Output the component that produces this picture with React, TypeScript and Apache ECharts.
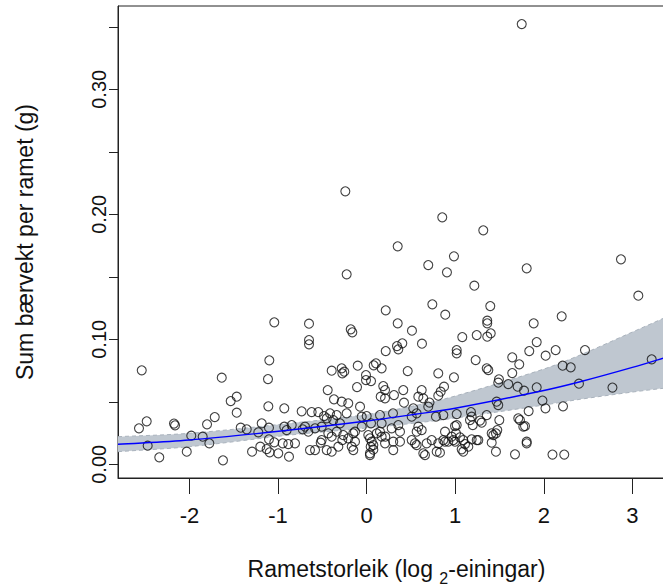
import React, { useEffect, useRef } from "react";
import * as echarts from "echarts";

// Rametstorleik (log2-einingar)
const rametSize = [
  1.751, -0.240, 0.854, 1.317, 0.351, 0.986, 2.871, 0.696, 1.807, 0.907,
  -0.225, 1.216, 3.067, 0.742, 1.396, 0.216, 0.888, 2.202, -1.042, -0.650,
  0.351, 1.362, 1.362, 1.886, -0.179, -0.161, 0.512, 1.401, 1.362, 1.243,
  1.080, -0.650, -0.650, 0.625, 1.920, 0.343, 0.403, 0.358, 0.216, 1.017,
  1.017, 1.836, 2.134, 2.021, 2.465, 1.644, 1.231, -1.098, 3.218, 1.723,
  -2.538, -0.394, -0.281, -0.274, -0.252, -0.100, 0.080, 0.106, 0.170, 0.464,
  1.356, 1.374, 2.213, 2.304, 0.809, 1.644, -0.007, -0.007, 0.050, -1.635,
  -1.113, 0.986, 1.494, 1.486, 1.599, 2.397, 1.705, 1.777, 1.920, 2.775,
  -0.108, 0.188, 0.208, -0.439, 0.414, 0.874, 0.836, 0.809, 0.622, 0.584,
  0.640, 0.309, -1.466, -1.534, -0.368, -0.281, -0.207, -0.074, 0.159, 0.208,
  0.422, 0.710, 0.696, 1.468, 1.486, 1.985, 2.019, 2.217, 1.829, -1.109,
  -0.929, -1.466, 0.527, -0.733, -0.620, -0.545, -0.413, -0.337, -0.225, 0.001,
  0.151, 0.298, 0.565, 0.509, 0.783, 0.866, 1.017, 1.178, 1.186, 1.356,
  1.712, 1.731, 1.498, 1.167, 1.280, -2.482, -2.174, -2.162, -1.714, -1.801,
  -2.569, -1.421, -1.353, -1.184, -1.102, -1.222, -0.929, -0.845, -0.902, -0.695,
  -0.658, -0.582, -0.507, -0.450, -0.376, -0.300, -0.432, -0.394, -0.337, -0.263,
  -0.207, -0.131, -0.055, 0.050, 0.019, 0.038, 0.151, 0.170, 0.283, 0.358,
  0.377, 0.170, 0.622, 0.565, 0.584, 0.885, 0.998, 1.017, 1.009, 1.198,
  1.299, 1.475, 1.412, 1.430, 1.460, 1.769, 1.788, 0.960, 1.054, 1.186,
  1.243, -1.293, -1.200, -1.128, -1.094, -1.042, -0.997, -0.947, -0.876, -1.102,
  -2.471, -2.340, -2.030, -1.621, -1.775, -1.979, -1.850, -0.884, -0.808, -0.639,
  -0.582, -0.507, -0.450, -0.394, -0.319, -0.274, -0.168, -0.150, -0.131, 0.046,
  0.076, 0.076, 0.038, 0.038, 0.058, 0.208, 0.211, 0.301, 0.377, 0.509,
  0.301, 0.546, 0.565, 0.640, 0.659, 0.735, 0.809, 0.791, 0.828, 0.866,
  0.885, 0.979, 0.998, 1.091, 1.111, 1.073, 1.091, 1.148, 0.922, 1.261,
  1.412, 1.460, 1.807, 1.807, 1.675, 2.098, 2.231, 0.678, -0.721, -0.518,
  -0.150, -0.055, 0.114, -0.481
];

// Sum bærvekt per ramet (g)
const berryMass = [
  0.3522, 0.2184, 0.1976, 0.1872, 0.1744, 0.1664, 0.1640, 0.1594, 0.1568, 0.1536,
  0.1520, 0.1429, 0.1349, 0.1280, 0.1266, 0.1232, 0.1197, 0.1184, 0.1136, 0.1125,
  0.1128, 0.1149, 0.1128, 0.1128, 0.1080, 0.1056, 0.1069, 0.1048, 0.1021, 0.1034,
  0.1018, 0.0994, 0.0960, 0.0965, 0.0978, 0.0946, 0.0968, 0.0920, 0.0906, 0.0914,
  0.0888, 0.0906, 0.0914, 0.0869, 0.0914, 0.0856, 0.0834, 0.0832, 0.0840, 0.0800,
  0.0752, 0.0749, 0.0768, 0.0728, 0.0741, 0.0789, 0.0792, 0.0808, 0.0768, 0.0746,
  0.0768, 0.0754, 0.0789, 0.0776, 0.0728, 0.0730, 0.0714, 0.0674, 0.0666, 0.0693,
  0.0682, 0.0696, 0.0680, 0.0653, 0.0642, 0.0645, 0.0621, 0.0589, 0.0616, 0.0614,
  0.0618, 0.0626, 0.0594, 0.0594, 0.0594, 0.0621, 0.0581, 0.0549, 0.0594, 0.0541,
  0.0528, 0.0554, 0.0541, 0.0506, 0.0520, 0.0501, 0.0488, 0.0461, 0.0541, 0.0528,
  0.0493, 0.0494, 0.0461, 0.0501, 0.0474, 0.0510, 0.0448, 0.0464, 0.0426, 0.0464,
  0.0448, 0.0413, 0.0448, 0.0424, 0.0418, 0.0418, 0.0408, 0.0394, 0.0408, 0.0386,
  0.0394, 0.0408, 0.0408, 0.0381, 0.0381, 0.0394, 0.0402, 0.0418, 0.0381, 0.0394,
  0.0368, 0.0354, 0.0354, 0.0354, 0.0350, 0.0344, 0.0326, 0.0312, 0.0378, 0.0320,
  0.0288, 0.0293, 0.0280, 0.0328, 0.0293, 0.0256, 0.0301, 0.0314, 0.0274, 0.0301,
  0.0261, 0.0288, 0.0301, 0.0368, 0.0354, 0.0328, 0.0248, 0.0221, 0.0261, 0.0234,
  0.0208, 0.0261, 0.0301, 0.0328, 0.0234, 0.0208, 0.0261, 0.0221, 0.0288, 0.0314,
  0.0261, 0.0328, 0.0274, 0.0261, 0.0301, 0.0261, 0.0306, 0.0314, 0.0248, 0.0314,
  0.0333, 0.0274, 0.0248, 0.0234, 0.0248, 0.0301, 0.0306, 0.0221, 0.0216, 0.0200,
  0.0194, 0.0101, 0.0141, 0.0122, 0.0096, 0.0176, 0.0088, 0.0168, 0.0061, 0.0200,
  0.0149, 0.0056, 0.0101, 0.0032, 0.0168, 0.0229, 0.0221, 0.0162, 0.0168, 0.0114,
  0.0114, 0.0194, 0.0114, 0.0101, 0.0141, 0.0194, 0.0141, 0.0114, 0.0181, 0.0141,
  0.0154, 0.0117, 0.0088, 0.0074, 0.0181, 0.0168, 0.0221, 0.0181, 0.0181, 0.0194,
  0.0114, 0.0168, 0.0154, 0.0088, 0.0074, 0.0194, 0.0168, 0.0101, 0.0093, 0.0194,
  0.0181, 0.0194, 0.0181, 0.0194, 0.0162, 0.0120, 0.0101, 0.0141, 0.0181, 0.0194,
  0.0173, 0.0101, 0.0181, 0.0168, 0.0080, 0.0078, 0.0078, 0.0168, 0.0280, 0.0173,
  0.0248, 0.0381, 0.0248, 0.0386
];

// fitted curve and its confidence band
const fitX = [-2.806, -2, -0.865, 0, 0.55, 1, 2, 2.41, 3, 3.35, 3.481];
const fitMid = [0.0160, 0.0194, 0.0274, 0.0346, 0.0400, 0.0448, 0.0590, 0.0660, 0.0775, 0.0850, 0.0880];
const fitLower = [0.0101, 0.0141, 0.0234, 0.0290, 0.0330, 0.0370, 0.0474, 0.0520, 0.0578, 0.0608, 0.0618];
const fitUpper = [0.0221, 0.0248, 0.0328, 0.0398, 0.0470, 0.0546, 0.0762, 0.0874, 0.1058, 0.1168, 0.1210];

const xTicks = [-2, -1, 0, 1, 2, 3];
const yTicks = [0, 0.05, 0.1, 0.15, 0.2, 0.25, 0.3, 0.35];
const yLabels = [0, 0.1, 0.2, 0.3];

const FONT = "'Liberation Sans', Arial, Helvetica, sans-serif";

// smooth path through pixel points (cubic Hermite with finite-difference tangents)
function curveCommands(p: number[][], start: boolean): string {
  const n = p.length;
  const m: number[] = [];
  for (let i = 0; i < n; i++) {
    const a = p[Math.max(0, i - 1)];
    const b = p[Math.min(n - 1, i + 1)];
    m.push((b[1] - a[1]) / (b[0] - a[0]));
  }
  let d = (start ? "M" : "L") + p[0][0].toFixed(2) + " " + p[0][1].toFixed(2);
  for (let i = 0; i < n - 1; i++) {
    const h = p[i + 1][0] - p[i][0];
    const c1x = p[i][0] + h / 3;
    const c1y = p[i][1] + (m[i] * h) / 3;
    const c2x = p[i + 1][0] - h / 3;
    const c2y = p[i + 1][1] - (m[i + 1] * h) / 3;
    d += ` C${c1x.toFixed(2)} ${c1y.toFixed(2)} ${c2x.toFixed(2)} ${c2y.toFixed(2)} ${p[i + 1][0].toFixed(2)} ${p[i + 1][1].toFixed(2)}`;
  }
  return d;
}

export default function App() {
  const ref = useRef<HTMLDivElement>(null);

  useEffect(() => {
    if (!ref.current) return;
    const chart = echarts.init(ref.current, undefined, { renderer: "svg" });

    const points = rametSize.map((x, i) => [x, berryMass[i]]);
    const fitData = fitX.map((x, i) => [x, fitMid[i], fitLower[i], fitUpper[i]]);

    const bandItem = (params: any, api: any) => {
      if (params.dataIndex !== 0) return null;
      const up = fitX.map((x, i) => api.coord([x, fitUpper[i]]));
      const lo = fitX.map((x, i) => api.coord([x, fitLower[i]]));
      const loRev = lo.slice().reverse();
      const band = curveCommands(up, true) + " " + curveCommands(loRev, false) + " Z";
      return {
        type: "group",
        children: [
          {
            type: "path",
            shape: { pathData: band },
            style: { fill: "#bfc7d0", stroke: "none" },
          },
          {
            type: "path",
            shape: { pathData: curveCommands(up, true) },
            style: { fill: "none", stroke: "#aab3bd", lineWidth: 1, lineDash: [4, 3] },
          },
          {
            type: "path",
            shape: { pathData: curveCommands(lo, true) },
            style: { fill: "none", stroke: "#aab3bd", lineWidth: 1, lineDash: [4, 3] },
          },
        ],
      };
    };

    const lineItem = (params: any, api: any) => {
      if (params.dataIndex !== 0) return null;
      const mid = fitX.map((x, i) => api.coord([x, fitMid[i]]));
      return {
        type: "path",
        shape: { pathData: curveCommands(mid, true) },
        style: { fill: "none", stroke: "#0000ff", lineWidth: 1.4 },
      };
    };

    chart.setOption({
      animation: false,
      backgroundColor: "#ffffff",
      textStyle: { fontFamily: FONT },
      grid: {
        left: 118,
        top: 6,
        right: -12,
        bottom: 110,
        show: true,
        borderColor: "#222",
        borderWidth: 1,
        containLabel: false,
        outerBoundsMode: "none",
      },
      xAxis: {
        type: "value",
        min: -2.806,
        max: 3.481,
        splitLine: { show: false },
        axisLine: { show: true, onZero: false, lineStyle: { color: "#222", width: 1 } },
        axisTick: {
          show: true,
          length: 16,
          customValues: xTicks,
          lineStyle: { color: "#222", width: 1 },
        },
        axisLabel: {
          customValues: xTicks,
          color: "#111",
          fontSize: 22,
          fontFamily: FONT,
          margin: 26,
          formatter: (v: number) => String(v),
        },
        name: "{b|Rametstorleik (log }{s|2}{b|-einingar)}",
        nameLocation: "middle",
        nameGap: 79,
        nameTextStyle: {
          color: "#111",
          fontFamily: FONT,
          rich: {
            b: { fontSize: 23, fontFamily: FONT, color: "#111", verticalAlign: "bottom", padding: [0, 0, 6, 0] },
            s: { fontSize: 16, fontFamily: FONT, color: "#111", verticalAlign: "bottom" },
          },
        },
      },
      yAxis: {
        type: "value",
        min: -0.01096,
        max: 0.36664,
        splitLine: { show: false },
        axisLine: { show: true, onZero: false, lineStyle: { color: "#222", width: 1 } },
        axisTick: {
          show: true,
          length: 9,
          customValues: yTicks,
          lineStyle: { color: "#222", width: 1 },
        },
        axisLabel: {
          customValues: yLabels,
          rotate: 90,
          color: "#111",
          fontSize: 20,
          fontFamily: FONT,
          margin: 9,
          formatter: (v: number) => v.toFixed(2),
        },
        name: "Sum bærvekt per ramet (g)",
        nameLocation: "middle",
        nameGap: 82,
        nameTextStyle: { color: "#111", fontSize: 23, fontFamily: FONT },
      },
      series: [
        {
          type: "custom",
          data: fitData,
          encode: { x: 0, y: 1 },
          renderItem: bandItem,
          silent: true,
          z: 1,
        },
        {
          type: "scatter",
          data: points,
          symbol: "circle",
          symbolSize: 9,
          itemStyle: { color: "rgba(0,0,0,0)", borderColor: "#111", borderWidth: 1.1 },
          z: 3,
        },
        {
          type: "custom",
          data: fitData,
          encode: { x: 0, y: 1 },
          renderItem: lineItem,
          silent: true,
          z: 4,
        },
      ],
    });

    return () => chart.dispose();
  }, []);

  return (
    <div
      ref={ref}
      style={{ position: "fixed", left: 0, top: 0, width: 663, height: 588, background: "#fff" }}
    />
  );
}
